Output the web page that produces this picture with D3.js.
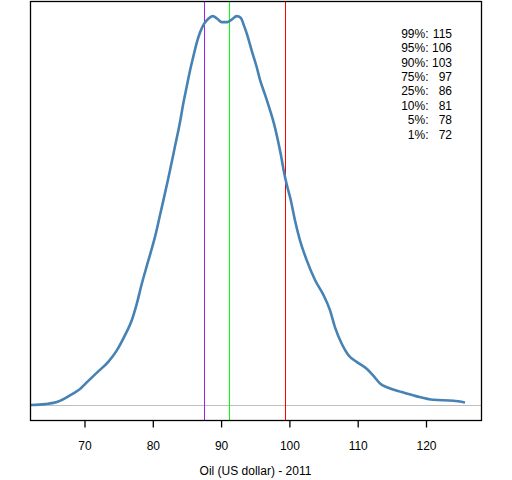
<!DOCTYPE html>
<html>
<head>
<meta charset="utf-8">
<script src="https://cdn.jsdelivr.net/npm/d3@7"></script>
<style>
  body { margin: 0; background: #fff; }
  text { font-family: "Liberation Sans", Arial, sans-serif; font-size: 12px; fill: #000; }
</style>
</head>
<body>
<svg id="chart" width="512" height="480"></svg>
<script>
"use strict";

// density estimate of the 2011 oil price (US dollar)
var price = [62.17, 64.22, 66.16, 67.63, 69.09, 70.56, 72.02, 73.48, 74.71, 75.93,
    76.91, 77.64, 78.37, 79.11, 79.84, 80.32, 81.05, 81.54, 82.27, 83.25,
    83.98, 84.47, 84.96, 85.45, 85.93, 86.43, 86.91, 87.50, 88.13, 88.77,
    89.44, 90.09, 90.91, 91.55, 92.28, 92.87, 93.35, 93.75, 94.48, 95.21,
    95.70, 96.43, 97.16, 97.75, 98.23, 98.73, 99.21, 99.60, 100.19, 100.82,
    101.55, 102.53, 103.75, 104.96, 105.94, 106.68, 107.66, 108.62, 109.85, 111.32,
    112.28, 113.27, 114.48, 116.44, 118.64, 121.07, 124.00, 125.71];
var density = [0.0000, 0.0001, 0.0004, 0.0010, 0.0017, 0.0028, 0.0039, 0.0050, 0.0063, 0.0081,
    0.0098, 0.0117, 0.0140, 0.0161, 0.0181, 0.0195, 0.0220, 0.0237, 0.0263, 0.0300,
    0.0328, 0.0350, 0.0369, 0.0388, 0.0404, 0.0420, 0.0432, 0.0442, 0.0448, 0.0451,
    0.0448, 0.0444, 0.0444, 0.0447, 0.0451, 0.0449, 0.0440, 0.0431, 0.0411, 0.0392,
    0.0377, 0.0360, 0.0342, 0.0326, 0.0310, 0.0291, 0.0270, 0.0256, 0.0238, 0.0214,
    0.0191, 0.0168, 0.0145, 0.0128, 0.0110, 0.0090, 0.0071, 0.0058, 0.0050, 0.0042,
    0.0034, 0.0025, 0.0020, 0.0015, 0.0010, 0.0006, 0.0005, 0.0003];

// reference lines (purple, green, red)
var markValues = [87.54, 91.20, 99.40];
var markColors = ["#A020F0", "#00FF00", "#FF0000"];

// quantile table
var quantLabels = ["99%:", "95%:", "90%:", "75%:", "25%:", "10%:", "5%:", "1%:"];
var quantValues = [115, 106, 103, 97, 86, 81, 78, 72];

var xTicks = [70, 80, 90, 100, 110, 120];
var xTitle = "Oil (US dollar) - 2011";

(function () {
    var svg = d3.select("#chart");
    var plotLeft = 30, plotRight = 481, plotTop = 1, plotBottom = 420;

    var x = d3.scaleLinear().domain([70, 120]).range([84.5, 426]);
    var y = d3.scaleLinear().domain([0, 0.045]).range([405, 17]);

    var pts = price.map(function (p, i) { return [p, density[i]]; });

    // baseline at zero density
    svg.append("line")
        .attr("x1", plotLeft).attr("x2", plotRight)
        .attr("y1", Math.round(y(0)) + 0.5).attr("y2", Math.round(y(0)) + 0.5)
        .attr("stroke", "#BEBEBE")
        .attr("stroke-width", 1);

    svg.selectAll(".mark")
        .data(markValues)
      .enter().append("line")
        .attr("class", "mark")
        .attr("x1", function (d) { return Math.round(x(d)) + 0.5; })
        .attr("x2", function (d) { return Math.round(x(d)) + 0.5; })
        .attr("y1", plotTop).attr("y2", plotBottom)
        .attr("stroke", function (d, i) { return markColors[i]; })
        .attr("stroke-width", 1);

    var line = d3.line()
        .x(function (d) { return x(d[0]); })
        .y(function (d) { return y(d[1]); })
        .curve(d3.curveMonotoneX);

    svg.append("path")
        .datum(pts)
        .attr("d", line)
        .attr("fill", "none")
        .attr("stroke", "#4682B4")
        .attr("stroke-width", 2.6)
        .attr("stroke-linejoin", "round");

    // frame
    svg.append("rect")
        .attr("x", plotLeft + 0.5).attr("y", plotTop + 0.5)
        .attr("width", plotRight - plotLeft).attr("height", plotBottom - plotTop)
        .attr("fill", "none")
        .attr("stroke", "#000")
        .attr("stroke-width", 1.3);

    // bottom axis
    var axis = svg.append("g")
        .attr("transform", "translate(0," + (plotBottom + 0.5) + ")")
        .call(d3.axisBottom(x).tickValues(xTicks).tickSize(7).tickPadding(14).tickSizeOuter(0));
    axis.select(".domain").remove();
    axis.selectAll(".tick line").attr("stroke", "#000").attr("stroke-width", 1.3);
    axis.selectAll(".tick text")
        .attr("font-family", "Liberation Sans, Arial, sans-serif")
        .attr("font-size", 12)
        .attr("fill", "#000");

    svg.append("text")
        .attr("x", (plotLeft + plotRight) / 2)
        .attr("y", 475)
        .attr("text-anchor", "middle")
        .text(xTitle);

    // quantiles
    var rows = svg.selectAll(".q")
        .data(quantLabels)
      .enter().append("g")
        .attr("class", "q")
        .attr("transform", function (d, i) { return "translate(0," + (37.8 + i * 14.4) + ")"; });
    rows.append("text")
        .attr("x", 428.5)
        .attr("text-anchor", "end")
        .text(function (d) { return d; });
    rows.append("text")
        .attr("x", 452)
        .attr("text-anchor", "end")
        .text(function (d, i) { return quantValues[i]; });
})();
</script>
</body>
</html>
